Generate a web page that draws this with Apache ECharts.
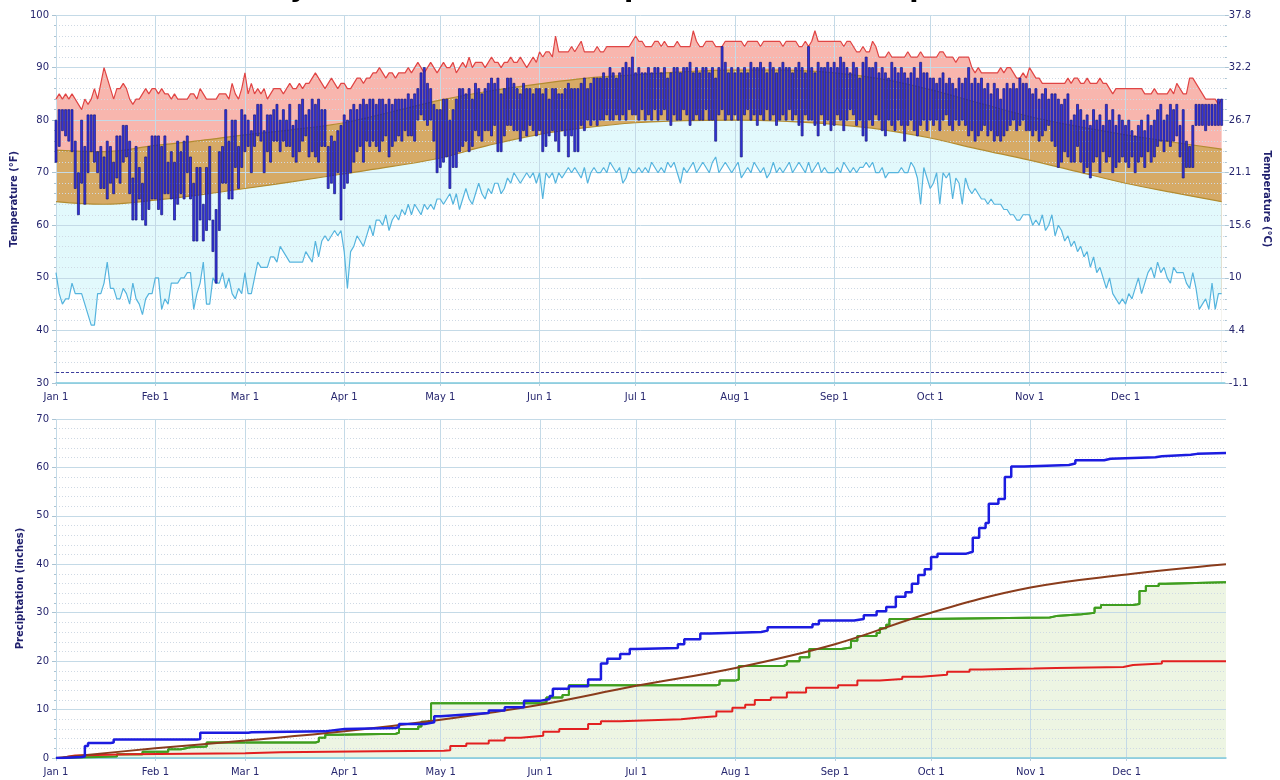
<!DOCTYPE html>
<html><head><meta charset="utf-8">
<script src="https://cdn.jsdelivr.net/npm/echarts@6/dist/echarts.min.js"></script>
<style>html,body{margin:0;padding:0;background:#fff}#c{width:1280px;height:780px}</style>
</head><body><div id="c"></div>
<script>
const titleText = 'Key West, FL - 2005 Temperature and Precipitation';
const monthNames = ['Jan','Feb','Mar','Apr','May','Jun','Jul','Aug','Sep','Oct','Nov','Dec'];
const monthLengths = [31,28,31,30,31,30,31,31,30,31,30,31];
const freezeLineF = 32;

// Daily observed high / low (°F)
const dayHigh = [
 [80,82,82,82,82,82,76,70,80,75,81,81,81,74,75,73,76,75,72,77,77,79,79,76,69,75,71,68,73,75,77],
 [77,77,75,77,72,74,72,76,74,76,77,73,68,71,71,64,71,75,61,63,74,75,82,76,80,80,75,82],
 [81,80,78,81,83,83,78,81,81,82,83,80,82,80,83,79,80,83,84,81,82,84,83,84,82,82,75,77,76,78,79],
 [81,80,82,83,82,83,84,83,84,84,83,84,84,83,84,83,84,84,84,84,85,84,85,86,89,90,87,86,83,82],
 [82,84,84,80,82,84,86,86,85,86,84,87,86,85,86,87,88,87,88,85,86,88,88,87,86,85,87,86,86,85,86],
 [86,85,86,84,86,86,85,85,86,87,86,86,86,87,88,86,87,88,88,88,89,88,90,89,88,89,90,91,90,92],
 [89,90,89,89,90,89,90,90,89,90,88,89,90,90,89,90,90,91,89,90,89,90,90,89,90,88,90,94,91,89,90],
 [89,90,89,90,89,91,90,90,91,90,89,91,90,89,90,91,90,90,89,90,91,90,89,94,90,89,91,90,90,91,90],
 [91,90,92,91,90,89,91,90,88,91,92,90,90,91,89,90,89,88,91,90,89,90,89,88,89,90,88,91,89,89],
 [88,88,87,88,89,87,88,87,86,88,87,88,90,87,88,87,88,86,87,85,87,86,84,86,87,86,87,86,88,87,87],
 [86,85,86,84,85,86,84,85,85,84,83,84,85,80,81,83,82,80,81,79,82,80,81,79,83,80,82,79,81,80],
 [79,80,78,77,79,80,78,81,79,80,82,83,80,81,83,82,83,79,82,76,75,79,83,83,83,83,83,83,83,84,84]
].flat();
const dayLow = [
 [72,75,78,77,76,74,67,62,68,64,70,74,72,70,67,67,65,68,66,69,68,72,73,66,61,61,65,61,60,63,65],
 [65,63,62,66,66,65,61,64,66,65,70,65,57,57,61,57,59,61,55,49,59,68,68,65,65,71,67,71],
 [74,75,70,75,77,76,70,74,72,76,76,74,76,75,75,73,72,74,76,77,73,74,73,72,75,75,67,68,66,70,61],
 [67,68,70,72,74,75,72,76,75,76,75,74,76,77,73,75,76,77,76,78,77,77,76,80,81,80,79,80,76,70],
 [71,72,73,67,71,71,74,75,76,74,75,78,77,76,78,78,77,79,74,74,77,79,79,78,78,76,78,77,79,78,77],
 [78,74,75,77,78,76,74,78,77,73,77,74,74,79,78,80,79,80,79,80,80,81,80,80,81,80,81,80,82,81],
 [81,80,82,80,81,80,82,80,81,82,80,79,81,80,80,82,81,79,80,81,80,80,82,80,80,76,81,82,80,81,80],
 [81,80,73,81,82,80,81,79,81,80,82,80,81,79,80,81,80,82,80,81,79,77,81,80,80,79,77,81,79,80,78],
 [79,81,80,78,80,82,81,79,80,77,76,80,79,81,80,78,77,80,79,78,80,79,76,79,80,78,77,79,80,78],
 [80,79,80,78,80,81,79,78,80,79,80,79,77,78,76,77,78,79,77,78,76,77,76,77,78,79,80,78,79,80,78],
 [78,77,78,76,77,78,79,76,75,71,72,74,73,72,72,75,72,70,71,69,72,73,70,74,72,73,70,71,72,73],
 [72,71,73,70,72,73,71,74,72,73,75,76,74,76,75,76,77,73,69,71,71,71,79,79,79,78,79,79,79,79,79]
].flat();

// Daily record high / record low (°F)
const recHigh = [
 [84,85,84,85,84,85,84,83,82,84,83,84,86,84,87,90,88,86,84,86,86,87,86,84,83,84,84,85,86,85,86],
 [86,85,86,85,85,84,85,84,84,84,84,85,85,84,86,85,84,84,84,84,85,85,85,84,87,85,84,86],
 [89,85,87,85,86,85,86,84,85,86,86,86,85,86,87,86,86,87,86,87,87,88,89,88,87,86,87,88,87,86,87],
 [87,86,86,87,88,88,87,88,88,89,89,90,89,88,89,89,88,89,89,89,90,89,90,91,90,89,90,91,90,89],
 [90,91,90,90,91,89,90,91,90,92,90,91,91,91,90,91,92,91,91,90,91,91,92,91,91,92,91,90,91,92,91],
 [93,92,93,93,92,96,93,93,93,93,94,93,94,95,93,93,93,93,94,93,93,94,94,94,94,94,94,94,94,95],
 [96,95,95,94,94,94,95,95,94,95,94,94,94,95,94,94,94,94,97,95,94,94,95,95,95,94,94,94,95,95,95],
 [95,95,95,94,95,95,95,95,94,95,95,95,95,95,95,94,95,95,95,95,94,94,95,94,95,97,95,95,95,95,95],
 [95,95,95,94,95,95,94,93,93,94,93,93,95,94,92,92,92,93,92,92,92,92,92,93,92,92,92,93,92,92],
 [92,92,92,93,93,92,92,92,91,92,92,92,92,90,89,90,89,89,89,89,89,89,90,89,90,90,89,88,88,89,88],
 [90,89,88,88,87,87,87,87,87,87,87,87,88,87,88,88,87,87,88,87,87,87,88,87,87,86,85,86,86,86],
 [86,86,86,86,86,86,85,85,85,86,85,85,85,85,86,85,87,86,85,85,88,88,87,86,85,84,84,84,84,83,84]
].flat();
const recLow = [
 [51,47,45,46,46,49,47,47,47,45,43,41,41,47,47,49,53,48,48,46,46,48,47,45,49,46,45,43,46,47,47],
 [50,50,44,46,45,49,49,49,50,50,51,51,44,47,49,53,45,45,50,49,49,51,48,50,47,46,48,47],
 [51,47,47,50,53,52,52,52,54,54,53,56,55,54,53,53,53,53,53,55,54,53,57,54,57,58,57,58,59,58,59],
 [55,48,55,56,58,57,56,58,60,58,61,61,60,62,59,61,62,61,63,62,64,62,64,63,62,64,63,64,63,65],
 [65,64,65,66,64,66,63,65,67,65,64,66,68,66,65,67,66,68,68,66,67,69,68,70,69,68,69,70,69,70,68],
 [70,65,70,69,70,68,70,69,70,71,70,71,70,69,71,68,70,71,70,70,71,70,72,71,70,71,68,69,71,70],
 [70,71,70,71,70,72,71,70,71,70,72,71,72,70,68,71,70,71,72,70,71,72,71,70,72,73,70,71,72,71,70],
 [71,72,69,70,71,70,72,71,70,71,69,70,72,70,71,70,71,72,70,71,72,71,70,72,70,71,72,70,71,70,70],
 [70,71,70,72,71,70,71,70,71,71,72,71,72,70,70,71,69,70,70,70,70,71,70,70,72,71,69,64,71,69],
 [67,68,70,64,70,69,70,65,69,68,64,69,67,66,67,66,65,65,64,65,64,64,64,63,63,62,62,61,61,62,62],
 [62,60,61,60,62,59,60,62,58,60,59,57,58,56,57,55,56,54,55,52,54,51,52,50,48,50,47,46,45,46],
 [45,47,46,48,50,47,49,51,52,50,53,51,52,50,49,52,51,51,51,49,48,51,48,44,45,46,44,49,44,47,47]
].flat();

// Normal high / low (°F) as [dayOfYear, value]
const normHigh = [[0,74.3],[15,74.0],[31,75.2],[45,76.1],[59,77.2],[74,78.2],[90,79.5],[105,81.6],[120,83.8],[135,85.5],[151,86.9],[166,88.0],[181,88.6],[196,89.2],[212,89.5],[227,89.5],[243,89.0],[258,87.8],[273,85.8],[288,83.3],[304,80.7],[319,78.8],[334,77.2],[349,75.8],[364,74.5]];
const normLow = [[0,64.5],[15,64.0],[31,64.8],[45,65.8],[59,67.0],[74,68.3],[90,69.8],[105,71.2],[120,72.8],[135,75.2],[151,77.3],[166,78.6],[181,79.5],[196,79.9],[212,80.0],[227,79.8],[243,79.2],[258,78.2],[273,76.6],[288,74.5],[304,72.4],[319,70.2],[334,68.0],[349,66.2],[364,64.5]];

// Cumulative precipitation (inches) as [dayOfYear, value]
const precipActual = [[0,0],[2,0.2],[8,0.3],[9,2.5],[10,3.1],[17,3.2],[18,3.8],[44,3.9],[45,5.2],[60,5.3],[61,5.5],[84,5.6],[85,6.0],[90,6.2],[106,6.4],[107,7.0],[115,7.4],[118,8.6],[120,9.0],[128,9.3],[135,9.8],[140,10.5],[146,11.8],[151,12.2],[154,12.8],[155,14.3],[160,14.8],[166,16.2],[170,19.5],[172,20.5],[176,21.5],[179,22.5],[181,22.7],[194,23.5],[196,24.5],[201,25.7],[204,26.0],[220,26.3],[222,27.0],[236,27.6],[238,28.4],[249,28.7],[252,29.5],[256,30.3],[259,31.2],[262,33.3],[265,34.2],[267,36.0],[269,37.8],[271,39.0],[273,41.5],[275,42.2],[284,42.6],[286,45.5],[288,47.5],[290,48.5],[291,52.5],[294,53.5],[296,58.0],[298,60.2],[302,60.5],[316,60.8],[318,61.5],[327,61.8],[329,62.1],[343,62.3],[345,62.6],[354,62.8],[356,63.0],[365,63.0]];
const precipGreen = [[0,0],[2,0.3],[19,0.8],[27,1.3],[35,1.8],[39,2.2],[42,2.4],[47,3.2],[81,3.4],[82,4.2],[84,4.8],[88,5.0],[106,5.2],[107,6.0],[113,6.5],[114,7.5],[116,7.8],[117,11.3],[151,11.5],[153,12.5],[158,13.0],[160,15.0],[206,15.2],[207,16.0],[212,16.2],[213,19.0],[227,19.3],[228,20.0],[232,20.8],[235,22.5],[245,22.8],[248,24.2],[250,25.2],[256,25.8],[257,26.8],[259,27.5],[260,28.7],[271,29.0],[310,29.3],[312,29.7],[320,30.0],[324,31.0],[326,31.6],[336,31.8],[338,34.5],[340,35.5],[344,36.0],[346,36.3],[365,36.3]];
const precipRed = [[0,0],[2,0.3],[4,0.5],[6,0.8],[23,1.0],[59,1.2],[70,1.4],[100,1.5],[121,1.6],[123,2.5],[128,3.0],[135,3.6],[140,4.2],[145,4.6],[152,5.4],[157,6.0],[166,7.0],[170,7.6],[176,8.0],[195,8.3],[200,8.6],[206,9.6],[211,10.4],[215,11.0],[218,12.0],[223,12.5],[228,13.5],[234,14.5],[244,15.0],[250,16.0],[257,16.3],[264,16.8],[270,17.2],[278,17.8],[285,18.3],[289,18.5],[305,18.6],[312,18.8],[333,19.2],[336,19.5],[345,20.0],[365,20.0]];
const precipNormal = [[0,0],[31,2.0],[59,3.6],[90,5.5],[120,7.9],[151,11.0],[181,14.9],[212,18.6],[243,23.5],[273,30.0],[304,35.2],[334,37.9],[365,40.0]];

// ---- build ----
const days = [];
const monthStart = new Set();
monthLengths.forEach((len, m) => {
  monthStart.add(days.length);
  for (let d = 1; d <= len; d++) days.push(monthNames[m] + ' ' + d);
});
days.push('Jan 1');
const isMonthStart = (i) => monthStart.has(i);

const LABEL = '#27276f';
const GRID = '#c4dae7';
const MINOR = '#cfd9e4';
const FONT = 'DejaVu Sans';

function xAxisCfg(gi) {
  return {
    type: 'category', gridIndex: gi, data: days, boundaryGap: false, z: 3,
    axisLine: { show: true, lineStyle: { color: '#7fc9dd', width: 1.5 } },
    axisTick: { show: true, interval: isMonthStart, length: 3, lineStyle: { color: '#b5cfdd' } },
    axisLabel: { interval: isMonthStart, color: LABEL, fontFamily: FONT, fontSize: 10, margin: 9 },
    splitLine: { show: true, interval: isMonthStart, lineStyle: { color: GRID, width: 1 } }
  };
}
function yCommon(extra) {
  return Object.assign({
    type: 'value', z: 3,
    axisLine: { show: false },
    axisTick: { show: true, length: 4, lineStyle: { color: '#a9c3d3' } },
    minorTick: { show: true, splitNumber: 5, length: 2, lineStyle: { color: '#a9c3d3' } },
    axisLabel: { color: LABEL, fontFamily: FONT, fontSize: 10, margin: 7 },
    nameTextStyle: { color: '#20206e', fontFamily: FONT, fontSize: 10, fontWeight: 'bold' },
    nameLocation: 'middle'
  }, extra);
}

function fill(data, color, smooth) {
  return { type: 'line', xAxisIndex: 0, yAxisIndex: 0, data, smooth: smooth || false, symbol: 'none', showSymbol: false,
    lineStyle: { width: 0, opacity: 0 }, areaStyle: { color, opacity: 1, origin: 'start' }, z: 1, silent: true };
}
function edge(data, color, width, smooth, extra) {
  return Object.assign({ type: 'line', xAxisIndex: 0, yAxisIndex: 0, data, smooth: smooth || false, symbol: 'none', showSymbol: false,
    lineStyle: { width, color }, z: 4, silent: true }, extra || {});
}
function pline(data, color, width, opts) {
  return Object.assign({ type: 'line', xAxisIndex: 1, yAxisIndex: 2, data, symbol: 'none', showSymbol: false,
    lineStyle: { width, color }, z: 4, silent: true }, opts || {});
}

const option = {
  animation: false,
  backgroundColor: '#ffffff',
  graphic: [{
    type: 'text', x: 640, y: -11,
    style: { text: titleText, font: 'bold 27px "DejaVu Sans"', fill: '#000', textAlign: 'center', textVerticalAlign: 'middle', align: 'center', verticalAlign: 'middle' }
  }],
  grid: [
    { left: 56, top: 15, width: 1170, height: 368 },
    { left: 56, top: 419, width: 1170, height: 339 }
  ],
  xAxis: [xAxisCfg(0), xAxisCfg(1)],
  yAxis: [
    yCommon({ gridIndex: 0, min: 30, max: 100, interval: 10, position: 'left',
      name: 'Temperature (°F)', nameGap: 33,
      splitLine: { show: true, lineStyle: { color: GRID } },
      minorSplitLine: { show: true, lineStyle: { color: MINOR, type: [1, 2] } } }),
    yCommon({ gridIndex: 0, min: 30, max: 100, interval: 10, position: 'right',
      name: 'Temperature (°C)', nameGap: 34, nameRotate: -90,
      splitLine: { show: false },
      axisLabel: { color: LABEL, fontFamily: FONT, fontSize: 10, margin: 4,
        formatter: (v) => { let s = ((v - 32) * 5 / 9).toFixed(1); if (s.endsWith('.0')) s = s.slice(0, -2); return s; } } }),
    yCommon({ gridIndex: 1, min: 0, max: 70, interval: 10, position: 'left',
      name: 'Precipitation (inches)', nameGap: 28,
      splitLine: { show: true, lineStyle: { color: GRID } },
      minorSplitLine: { show: true, lineStyle: { color: MINOR, type: [1, 2] } } })
  ],
  series: [
    fill(recHigh, '#f8b6ae'),
    fill(normHigh, '#d6aa66', 0.4),
    fill(normLow, '#e2f9fc', 0.4),
    fill(recLow, '#ffffff'),
    edge(recHigh, '#e04545', 1.2),
    edge(normHigh, '#b38c30', 1.2, 0.4),
    edge(normLow, '#b38c30', 1.2, 0.4),
    edge(recLow, '#55b4de', 1.2, false, {
      markLine: { silent: true, symbol: ['none', 'none'], label: { show: false },
        lineStyle: { color: '#3d3d9e', type: [3, 2], width: 1.2 }, data: [{ yAxis: freezeLineF }] }
    }),
    {
      type: 'custom', xAxisIndex: 0, yAxisIndex: 0, z: 5, silent: true,
      data: dayHigh.map((h, i) => [i, dayLow[i], h]),
      encode: { x: 0, y: [1, 2] },
      renderItem: (params, api) => {
        const lo = api.coord([api.value(0), api.value(1)]);
        const hi = api.coord([api.value(0), api.value(2)]);
        return { type: 'rect', shape: { x: lo[0] - 1.0, y: hi[1], width: 2.0, height: lo[1] - hi[1] },
          style: { fill: '#3333e0', stroke: '#15157a', lineWidth: 0.7 } };
      }
    },
    pline(precipGreen, '#3f9e1f', 2, { step: 'end', areaStyle: { color: '#edf5e3', opacity: 1 }, z: 1 }),
    pline(precipGreen, '#3f9e1f', 2, { step: 'end' }),
    pline(precipRed, '#e22020', 2, { step: 'end' }),
    pline(precipNormal, '#8a3c1c', 2, { smooth: 0.4 }),
    pline(precipActual, '#1c1ce0', 2.5, { step: 'end' })
  ]
};
const chart = echarts.init(document.getElementById('c'), null, { renderer: 'canvas' });
chart.setOption(option);
</script>
</body></html>
